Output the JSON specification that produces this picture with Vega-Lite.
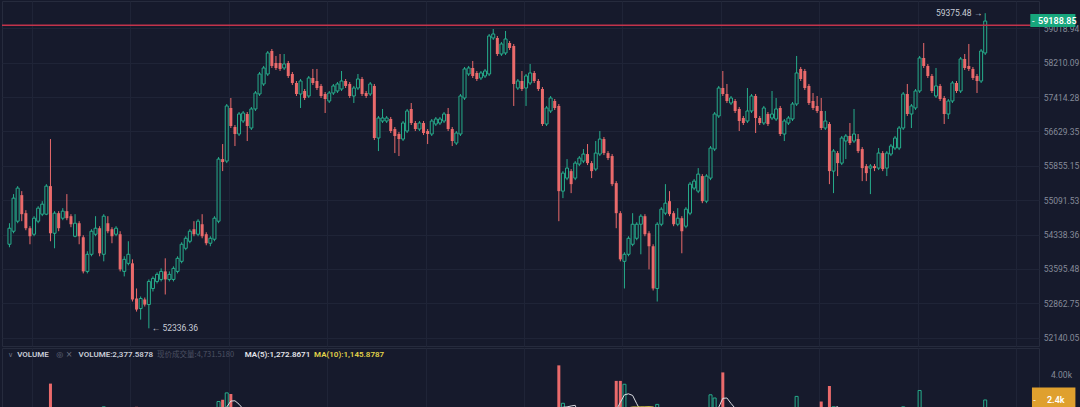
{
"$schema": "https://vega.github.io/schema/vega-lite/v6.json",
"background": "#161a2c",
"padding": 0,
"spacing": 0,
"config": {
  "view": {"stroke": "#262b3d"},
  "font": "Roboto",
  "axis": {"labelFont": "Roboto"}
},
"datasets": {
"k": [
{"i":0,"o":54128,"h":54586,"l":54063,"c":54477,"v":900},
{"i":1,"o":54411,"h":55226,"l":54367,"c":55137,"v":1300},
{"i":2,"o":54630,"h":55403,"l":54586,"c":55359,"v":1200},
{"i":3,"o":55203,"h":55292,"l":54630,"c":54784,"v":1000},
{"i":4,"o":54806,"h":54872,"l":54433,"c":54477,"v":900},
{"i":5,"o":54477,"h":54521,"l":54128,"c":54302,"v":800},
{"i":6,"o":54346,"h":54740,"l":54302,"c":54696,"v":850},
{"i":7,"o":54630,"h":54960,"l":54586,"c":54916,"v":700},
{"i":8,"o":54784,"h":55070,"l":54740,"c":55004,"v":750},
{"i":9,"o":54784,"h":55447,"l":54762,"c":55403,"v":1100},
{"i":10,"o":55403,"h":56457,"l":54193,"c":54367,"v":3400},
{"i":11,"o":54367,"h":54850,"l":54041,"c":54806,"v":1400},
{"i":12,"o":54806,"h":54850,"l":54411,"c":54477,"v":1000},
{"i":13,"o":54696,"h":54916,"l":54652,"c":54850,"v":700},
{"i":14,"o":54850,"h":55226,"l":54652,"c":54696,"v":900},
{"i":15,"o":54740,"h":54784,"l":54499,"c":54564,"v":800},
{"i":16,"o":54302,"h":54784,"l":54280,"c":54586,"v":850},
{"i":17,"o":54586,"h":54630,"l":54128,"c":54302,"v":900},
{"i":18,"o":54280,"h":54324,"l":53500,"c":53543,"v":1500},
{"i":19,"o":53543,"h":53976,"l":53500,"c":53911,"v":1100},
{"i":20,"o":53911,"h":54455,"l":53868,"c":54411,"v":1200},
{"i":21,"o":54346,"h":54740,"l":54302,"c":54477,"v":800},
{"i":22,"o":54477,"h":54521,"l":53868,"c":53933,"v":1300},
{"i":23,"o":53911,"h":54784,"l":53759,"c":54740,"v":1950},
{"i":24,"o":54586,"h":54740,"l":54367,"c":54411,"v":1000},
{"i":25,"o":54455,"h":54499,"l":54150,"c":54302,"v":800},
{"i":26,"o":54346,"h":54521,"l":54302,"c":54477,"v":700},
{"i":27,"o":54346,"h":54411,"l":53543,"c":53586,"v":1400},
{"i":28,"o":53543,"h":53868,"l":53436,"c":53802,"v":900},
{"i":29,"o":53716,"h":54193,"l":53673,"c":53911,"v":800},
{"i":30,"o":53716,"h":53802,"l":52901,"c":52944,"v":1600},
{"i":31,"o":52965,"h":53178,"l":52688,"c":52731,"v":1950},
{"i":32,"o":52752,"h":53008,"l":52519,"c":52965,"v":1300},
{"i":33,"o":52944,"h":52986,"l":52795,"c":52837,"v":900},
{"i":34,"o":52837,"h":53371,"l":52336.36,"c":53328,"v":1500},
{"i":35,"o":53178,"h":53436,"l":53114,"c":53393,"v":1000},
{"i":36,"o":53328,"h":53522,"l":53285,"c":53479,"v":800},
{"i":37,"o":53371,"h":53608,"l":53328,"c":53543,"v":750},
{"i":38,"o":53543,"h":53824,"l":53050,"c":53371,"v":1100},
{"i":39,"o":53371,"h":53543,"l":53328,"c":53479,"v":700},
{"i":40,"o":53371,"h":53651,"l":53328,"c":53608,"v":800},
{"i":41,"o":53543,"h":53868,"l":53500,"c":53824,"v":900},
{"i":42,"o":53759,"h":54171,"l":53716,"c":54128,"v":1000},
{"i":43,"o":54041,"h":54302,"l":53998,"c":54258,"v":900},
{"i":44,"o":54193,"h":54455,"l":54150,"c":54411,"v":850},
{"i":45,"o":54455,"h":54630,"l":54302,"c":54346,"v":700},
{"i":46,"o":54346,"h":54674,"l":54302,"c":54630,"v":900},
{"i":47,"o":54564,"h":54784,"l":54258,"c":54302,"v":1000},
{"i":48,"o":54346,"h":54389,"l":54106,"c":54150,"v":800},
{"i":49,"o":54150,"h":54302,"l":54085,"c":54258,"v":900},
{"i":50,"o":54237,"h":54740,"l":54193,"c":54696,"v":1300},
{"i":51,"o":54630,"h":56051,"l":54586,"c":56006,"v":2280},
{"i":52,"o":56006,"h":56344,"l":55737,"c":55939,"v":2390},
{"i":53,"o":55961,"h":57255,"l":55916,"c":57210,"v":2820},
{"i":54,"o":57164,"h":57393,"l":56707,"c":56753,"v":2750},
{"i":55,"o":56730,"h":56775,"l":56299,"c":56571,"v":1400},
{"i":56,"o":56571,"h":57072,"l":56526,"c":57026,"v":1200},
{"i":57,"o":56866,"h":57095,"l":56821,"c":57049,"v":900},
{"i":58,"o":57026,"h":57072,"l":56412,"c":56753,"v":1100},
{"i":59,"o":56707,"h":57187,"l":56662,"c":57141,"v":1000},
{"i":60,"o":57141,"h":57554,"l":57095,"c":57508,"v":1100},
{"i":61,"o":57485,"h":57994,"l":57439,"c":57947,"v":1300},
{"i":62,"o":57716,"h":58134,"l":57670,"c":58087,"v":1000},
{"i":63,"o":57947,"h":58483,"l":57901,"c":58437,"v":1300},
{"i":64,"o":58483,"h":58530,"l":58087,"c":58134,"v":1100},
{"i":65,"o":58203,"h":58367,"l":58040,"c":58087,"v":800},
{"i":66,"o":58203,"h":58413,"l":58017,"c":58064,"v":900},
{"i":67,"o":58087,"h":58413,"l":58040,"c":58180,"v":700},
{"i":68,"o":58203,"h":58250,"l":57855,"c":57901,"v":900},
{"i":69,"o":57947,"h":57994,"l":57693,"c":57739,"v":800},
{"i":70,"o":57739,"h":57785,"l":57439,"c":57485,"v":900},
{"i":71,"o":57485,"h":57831,"l":57164,"c":57785,"v":1000},
{"i":72,"o":57554,"h":57600,"l":57347,"c":57393,"v":700},
{"i":73,"o":57439,"h":57901,"l":57393,"c":57855,"v":900},
{"i":74,"o":57855,"h":58064,"l":57693,"c":57739,"v":700},
{"i":75,"o":57785,"h":58064,"l":57577,"c":57623,"v":800},
{"i":76,"o":57670,"h":57716,"l":57393,"c":57439,"v":800},
{"i":77,"o":57485,"h":57531,"l":57049,"c":57370,"v":900},
{"i":78,"o":57324,"h":57554,"l":57278,"c":57508,"v":700},
{"i":79,"o":57508,"h":57716,"l":57462,"c":57670,"v":650},
{"i":80,"o":57554,"h":57762,"l":57508,"c":57716,"v":600},
{"i":81,"o":57600,"h":58017,"l":57554,"c":57785,"v":800},
{"i":82,"o":57785,"h":57831,"l":57623,"c":57670,"v":600},
{"i":83,"o":57716,"h":57762,"l":57393,"c":57439,"v":800},
{"i":84,"o":57439,"h":57670,"l":57278,"c":57623,"v":700},
{"i":85,"o":57623,"h":57947,"l":57577,"c":57831,"v":800},
{"i":86,"o":57831,"h":57878,"l":57439,"c":57485,"v":900},
{"i":87,"o":57508,"h":57554,"l":57393,"c":57439,"v":600},
{"i":88,"o":57485,"h":57762,"l":57439,"c":57716,"v":700},
{"i":89,"o":57670,"h":57716,"l":56435,"c":56480,"v":1850},
{"i":90,"o":56480,"h":56981,"l":56186,"c":56935,"v":1300},
{"i":91,"o":56866,"h":57141,"l":56821,"c":56935,"v":800},
{"i":92,"o":56866,"h":56981,"l":56821,"c":56935,"v":600},
{"i":93,"o":56912,"h":56958,"l":56594,"c":56639,"v":800},
{"i":94,"o":56684,"h":56730,"l":56141,"c":56526,"v":900},
{"i":95,"o":56571,"h":56616,"l":56074,"c":56457,"v":900},
{"i":96,"o":56457,"h":56866,"l":56412,"c":56821,"v":1000},
{"i":97,"o":56639,"h":57141,"l":56594,"c":57095,"v":1000},
{"i":98,"o":57141,"h":57278,"l":56775,"c":56821,"v":900},
{"i":99,"o":56821,"h":56866,"l":56639,"c":56684,"v":600},
{"i":100,"o":56684,"h":56866,"l":56639,"c":56821,"v":600},
{"i":101,"o":56821,"h":56866,"l":56548,"c":56594,"v":700},
{"i":102,"o":56639,"h":56684,"l":56344,"c":56571,"v":800},
{"i":103,"o":56571,"h":56912,"l":56526,"c":56866,"v":800},
{"i":104,"o":56798,"h":56958,"l":56753,"c":56912,"v":600},
{"i":105,"o":56821,"h":56958,"l":56775,"c":56912,"v":500},
{"i":106,"o":56866,"h":57072,"l":56821,"c":57026,"v":600},
{"i":107,"o":57026,"h":57164,"l":56639,"c":56684,"v":900},
{"i":108,"o":56684,"h":56730,"l":56299,"c":56412,"v":1000},
{"i":109,"o":56367,"h":56639,"l":56322,"c":56594,"v":800},
{"i":110,"o":56571,"h":57485,"l":56526,"c":57439,"v":1500},
{"i":111,"o":57393,"h":58110,"l":57347,"c":58064,"v":1600},
{"i":112,"o":57947,"h":58134,"l":57901,"c":58087,"v":900},
{"i":113,"o":58087,"h":58250,"l":57855,"c":57901,"v":900},
{"i":114,"o":57971,"h":58017,"l":57785,"c":57831,"v":700},
{"i":115,"o":57855,"h":58017,"l":57808,"c":57971,"v":600},
{"i":116,"o":57901,"h":58064,"l":57855,"c":58017,"v":600},
{"i":117,"o":57947,"h":58883,"l":57901,"c":58836,"v":1600},
{"i":118,"o":58789,"h":59001,"l":58742,"c":58883,"v":1000},
{"i":119,"o":58789,"h":58836,"l":58367,"c":58413,"v":1200},
{"i":120,"o":58413,"h":58695,"l":58367,"c":58648,"v":800},
{"i":121,"o":58437,"h":58954,"l":58390,"c":58765,"v":900},
{"i":122,"o":58671,"h":58718,"l":58507,"c":58554,"v":700},
{"i":123,"o":58601,"h":58648,"l":57210,"c":57716,"v":1850},
{"i":124,"o":57623,"h":57831,"l":57577,"c":57785,"v":1000},
{"i":125,"o":57785,"h":58017,"l":57554,"c":57600,"v":900},
{"i":126,"o":57623,"h":57947,"l":57210,"c":57901,"v":1000},
{"i":127,"o":57739,"h":58180,"l":57693,"c":57971,"v":900},
{"i":128,"o":57971,"h":58017,"l":57739,"c":57785,"v":800},
{"i":129,"o":57785,"h":57831,"l":57554,"c":57600,"v":800},
{"i":130,"o":57600,"h":57646,"l":56753,"c":56798,"v":1850},
{"i":131,"o":56798,"h":57210,"l":56753,"c":57164,"v":1200},
{"i":132,"o":57095,"h":57439,"l":57049,"c":57393,"v":900},
{"i":133,"o":57324,"h":57370,"l":57118,"c":57164,"v":800},
{"i":134,"o":57210,"h":57255,"l":54630,"c":55292,"v":4540},
{"i":135,"o":55292,"h":55737,"l":55137,"c":55692,"v":2170},
{"i":136,"o":55581,"h":56006,"l":55536,"c":55804,"v":1300},
{"i":137,"o":55737,"h":55782,"l":55248,"c":55447,"v":1200},
{"i":138,"o":55581,"h":55961,"l":55536,"c":55916,"v":1000},
{"i":139,"o":55894,"h":56074,"l":55849,"c":56029,"v":800},
{"i":140,"o":55961,"h":56231,"l":55916,"c":56119,"v":700},
{"i":141,"o":56119,"h":56344,"l":55872,"c":55916,"v":900},
{"i":142,"o":55916,"h":55961,"l":55581,"c":55737,"v":800},
{"i":143,"o":55782,"h":56412,"l":55737,"c":56141,"v":1000},
{"i":144,"o":56119,"h":56639,"l":56074,"c":56457,"v":1100},
{"i":145,"o":56457,"h":56503,"l":56096,"c":56141,"v":1000},
{"i":146,"o":56141,"h":56186,"l":55984,"c":56029,"v":1200},
{"i":147,"o":56074,"h":56119,"l":55403,"c":55447,"v":1800},
{"i":148,"o":55470,"h":55514,"l":54477,"c":54806,"v":3570},
{"i":149,"o":54806,"h":54850,"l":53759,"c":53802,"v":3570},
{"i":150,"o":53759,"h":53954,"l":53178,"c":53911,"v":3360},
{"i":151,"o":53911,"h":54302,"l":53868,"c":54258,"v":1500},
{"i":152,"o":54128,"h":54806,"l":54085,"c":54564,"v":1300},
{"i":153,"o":54258,"h":54608,"l":54215,"c":54564,"v":1000},
{"i":154,"o":54564,"h":54784,"l":53911,"c":54740,"v":1200},
{"i":155,"o":54740,"h":54784,"l":54302,"c":54346,"v":1000},
{"i":156,"o":54367,"h":54411,"l":53586,"c":54085,"v":1300},
{"i":157,"o":54085,"h":54128,"l":53135,"c":53178,"v":1600},
{"i":158,"o":53178,"h":54608,"l":52901,"c":54564,"v":2100},
{"i":159,"o":54564,"h":54938,"l":54521,"c":54894,"v":1300},
{"i":160,"o":54806,"h":55447,"l":54762,"c":55026,"v":1200},
{"i":161,"o":55070,"h":55292,"l":54740,"c":54784,"v":1000},
{"i":162,"o":54806,"h":54850,"l":54521,"c":54564,"v":900},
{"i":163,"o":54564,"h":54916,"l":54521,"c":54696,"v":800},
{"i":164,"o":54696,"h":54740,"l":53933,"c":54411,"v":1100},
{"i":165,"o":54521,"h":54938,"l":54477,"c":54894,"v":1000},
{"i":166,"o":54806,"h":55492,"l":54762,"c":55447,"v":1400},
{"i":167,"o":55359,"h":55559,"l":55314,"c":55514,"v":900},
{"i":168,"o":55292,"h":55804,"l":55248,"c":55670,"v":1100},
{"i":169,"o":55626,"h":55670,"l":55026,"c":55070,"v":1300},
{"i":170,"o":55070,"h":55670,"l":55026,"c":55626,"v":1400},
{"i":171,"o":55581,"h":56299,"l":55536,"c":56254,"v":2700},
{"i":172,"o":56231,"h":57072,"l":56186,"c":57026,"v":2500},
{"i":173,"o":56981,"h":57670,"l":56935,"c":57623,"v":1700},
{"i":174,"o":57623,"h":58017,"l":57439,"c":57485,"v":4100},
{"i":175,"o":57485,"h":57716,"l":57278,"c":57324,"v":1500},
{"i":176,"o":57278,"h":57439,"l":57232,"c":57393,"v":1000},
{"i":177,"o":57324,"h":57370,"l":57049,"c":57095,"v":1000},
{"i":178,"o":57141,"h":57187,"l":56639,"c":56866,"v":1200},
{"i":179,"o":56935,"h":56981,"l":56775,"c":56821,"v":800},
{"i":180,"o":56866,"h":57623,"l":56821,"c":57095,"v":1100},
{"i":181,"o":57095,"h":57485,"l":57049,"c":57439,"v":1000},
{"i":182,"o":57439,"h":57485,"l":56594,"c":56935,"v":1780},
{"i":183,"o":56935,"h":56981,"l":56775,"c":56821,"v":900},
{"i":184,"o":56821,"h":57210,"l":56775,"c":57164,"v":900},
{"i":185,"o":57026,"h":57072,"l":56753,"c":56798,"v":800},
{"i":186,"o":56935,"h":57554,"l":56889,"c":57026,"v":900},
{"i":187,"o":56912,"h":57393,"l":56866,"c":57141,"v":900},
{"i":188,"o":57164,"h":57210,"l":56526,"c":56571,"v":1300},
{"i":189,"o":56571,"h":56912,"l":56412,"c":56866,"v":1000},
{"i":190,"o":56821,"h":56981,"l":56775,"c":56935,"v":700},
{"i":191,"o":56912,"h":57301,"l":56866,"c":57255,"v":1100},
{"i":192,"o":57255,"h":58367,"l":57210,"c":57971,"v":2600},
{"i":193,"o":58064,"h":58110,"l":57785,"c":57831,"v":1400},
{"i":194,"o":58017,"h":58064,"l":57577,"c":57623,"v":1200},
{"i":195,"o":57670,"h":57716,"l":57232,"c":57278,"v":1200},
{"i":196,"o":57324,"h":57508,"l":57118,"c":57164,"v":900},
{"i":197,"o":57210,"h":57439,"l":57049,"c":57095,"v":900},
{"i":198,"o":57095,"h":57393,"l":56662,"c":56707,"v":2280},
{"i":199,"o":56707,"h":57095,"l":56662,"c":56866,"v":1000},
{"i":200,"o":56798,"h":56843,"l":55447,"c":55737,"v":3250},
{"i":201,"o":55737,"h":56231,"l":55248,"c":56186,"v":1950},
{"i":202,"o":56141,"h":56186,"l":55626,"c":55916,"v":1300},
{"i":203,"o":55916,"h":56526,"l":55872,"c":56480,"v":1200},
{"i":204,"o":56412,"h":56571,"l":56006,"c":56526,"v":900},
{"i":205,"o":56526,"h":56821,"l":56322,"c":56367,"v":800},
{"i":206,"o":56412,"h":57141,"l":56367,"c":56571,"v":1000},
{"i":207,"o":56457,"h":56571,"l":56141,"c":56186,"v":900},
{"i":208,"o":56231,"h":56276,"l":55514,"c":55804,"v":1780},
{"i":209,"o":55849,"h":55894,"l":55514,"c":55692,"v":1000},
{"i":210,"o":55804,"h":55894,"l":55226,"c":55849,"v":1200},
{"i":211,"o":55849,"h":55894,"l":55737,"c":55804,"v":700},
{"i":212,"o":55804,"h":56254,"l":55760,"c":56141,"v":900},
{"i":213,"o":56141,"h":56186,"l":55737,"c":55782,"v":1000},
{"i":214,"o":55804,"h":56186,"l":55626,"c":56141,"v":1000},
{"i":215,"o":56119,"h":56344,"l":56074,"c":56299,"v":900},
{"i":216,"o":56254,"h":56526,"l":56209,"c":56480,"v":900},
{"i":217,"o":56254,"h":56753,"l":56209,"c":56707,"v":1100},
{"i":218,"o":56707,"h":57531,"l":56662,"c":57485,"v":1950},
{"i":219,"o":57485,"h":57716,"l":56981,"c":57026,"v":1400},
{"i":220,"o":57026,"h":57255,"l":56707,"c":57210,"v":1000},
{"i":221,"o":57164,"h":57600,"l":57118,"c":57554,"v":1300},
{"i":222,"o":57554,"h":58367,"l":57508,"c":58320,"v":2970},
{"i":223,"o":58320,"h":58671,"l":58087,"c":58134,"v":1780},
{"i":224,"o":58134,"h":58180,"l":57855,"c":57901,"v":1300},
{"i":225,"o":57901,"h":57947,"l":57508,"c":57554,"v":1200},
{"i":226,"o":57439,"h":58087,"l":57393,"c":57670,"v":1100},
{"i":227,"o":57670,"h":57716,"l":57324,"c":57370,"v":1000},
{"i":228,"o":57393,"h":57439,"l":56798,"c":57026,"v":1200},
{"i":229,"o":57026,"h":57370,"l":56912,"c":57324,"v":1000},
{"i":230,"o":57324,"h":57785,"l":57278,"c":57739,"v":1100},
{"i":231,"o":57739,"h":57785,"l":57508,"c":57554,"v":900},
{"i":232,"o":57554,"h":58343,"l":57508,"c":58297,"v":1250},
{"i":233,"o":58297,"h":58413,"l":58040,"c":58087,"v":844.46},
{"i":234,"o":58134,"h":58648,"l":58017,"c":58064,"v":950},
{"i":235,"o":58064,"h":58110,"l":57808,"c":57855,"v":1020},
{"i":236,"o":57901,"h":57947,"l":57508,"c":57785,"v":1080},
{"i":237,"o":57785,"h":58530,"l":57739,"c":58483,"v":936.75},
{"i":238,"o":58437,"h":59375.48,"l":58390,"c":59188.85,"v":2377.5878}
]
},
"vconcat": [
{
  "width": 1037,
  "height": 345,
  "data": {"name": "k"},
  "layer": [
    {
      "mark": {"type": "rule", "strokeWidth": 1},
      "encoding": {
        "x": {"field": "i", "type": "quantitative",
              "scale": {"domain": [-0.6, 249.9], "nice": false, "zero": false},
              "axis": {"values": [5.5, 29.5, 53.5, 77.5, 101.5, 125.5, 149.5, 173.5, 197.5, 221.5, 245.5],
                       "grid": true, "gridColor": "#1f2437", "labels": false, "ticks": false, "domain": false, "title": null}},
        "y": {"field": "l", "type": "quantitative",
              "scale": {"type": "log", "domain": [51967, 59666], "nice": false, "zero": false},
              "axis": {"orient": "right", "title": null,
                       "values": [52140.05, 52862.75, 53595.48, 54338.36, 55091.53, 55855.15, 56629.35, 57414.28, 58210.09, 59018.94],
                       "format": ".2f", "grid": true, "gridColor": "#1f2437", "ticks": false, "domain": false,
                       "labelColor": "#858a99", "labelFontSize": 8.5, "labelAlign": "center", "labelPadding": 22, "labelOverlap": false}},
        "y2": {"field": "h"},
        "color": {"condition": {"test": "datum.c >= datum.o", "value": "#26ad8c"}, "value": "#ea6a6b"}
      }
    },
    {
      "transform": [{"filter": "datum.c < datum.o"}],
      "mark": {"type": "bar", "width": 3, "color": "#ea6a6b"},
      "encoding": {
        "x": {"field": "i", "type": "quantitative"},
        "y": {"field": "o", "type": "quantitative"},
        "y2": {"field": "c"}
      }
    },
    {
      "transform": [{"filter": "datum.c >= datum.o"}],
      "mark": {"type": "bar", "width": 3, "fill": "#161a2c", "stroke": "#26ad8c", "strokeWidth": 1},
      "encoding": {
        "x": {"field": "i", "type": "quantitative"},
        "y": {"field": "o", "type": "quantitative"},
        "y2": {"field": "c"}
      }
    },
    {
      "data": {"values": [{}]},
      "mark": {"type": "rule", "color": "#c2334b", "strokeWidth": 1.5},
      "encoding": {"y": {"datum": 59090, "type": "quantitative"}}
    },
    {
      "data": {"values": [{}]},
      "mark": {"type": "text", "text": "59375.48 →", "align": "right", "baseline": "middle", "dx": -3, "fontSize": 8.5, "color": "#c8ccd6"},
      "encoding": {"x": {"datum": 238, "type": "quantitative"}, "y": {"datum": 59375.48, "type": "quantitative"}}
    },
    {
      "data": {"values": [{}]},
      "mark": {"type": "text", "text": "← 52336.36", "align": "left", "baseline": "middle", "dx": 3, "fontSize": 8.5, "color": "#c8ccd6"},
      "encoding": {"x": {"datum": 34, "type": "quantitative"}, "y": {"datum": 52336.36, "type": "quantitative"}}
    },
    {
      "data": {"values": [{}]},
      "mark": {"type": "rect", "color": "#17a67c"},
      "encoding": {"x": {"datum": 249.0, "type": "quantitative"}, "x2": {"datum": 260.0},
                   "y": {"datum": 59357, "type": "quantitative"}, "y2": {"datum": 59048}}
    },
    {
      "data": {"values": [{}]},
      "mark": {"type": "text", "text": "-", "align": "left", "baseline": "middle", "fontSize": 9, "color": "#ffffff"},
      "encoding": {"x": {"datum": 249.4, "type": "quantitative"}, "y": {"datum": 59188.85, "type": "quantitative"}}
    },
    {
      "data": {"values": [{}]},
      "mark": {"type": "text", "text": "59188.85", "align": "center", "baseline": "middle", "fontSize": 9, "fontWeight": 600, "color": "#ffffff"},
      "encoding": {"x": {"datum": 255.6, "type": "quantitative"}, "y": {"datum": 59188.85, "type": "quantitative"}}
    }
  ]
},
{
  "width": 1037,
  "height": 62,
  "data": {"name": "k"},
  "transform": [
    {"window": [{"op": "mean", "field": "v", "as": "ma5"}], "frame": [-4, 0], "sort": [{"field": "i"}]},
    {"window": [{"op": "mean", "field": "v", "as": "ma10"}], "frame": [-9, 0], "sort": [{"field": "i"}]}
  ],
  "layer": [
    {
      "transform": [{"filter": "datum.c < datum.o"}],
      "mark": {"type": "bar", "width": 3, "color": "#ea6a6b", "clip": true},
      "encoding": {
        "x": {"field": "i", "type": "quantitative",
              "scale": {"domain": [-0.6, 249.9], "nice": false, "zero": false},
              "axis": {"values": [5.5, 29.5, 53.5, 77.5, 101.5, 125.5, 149.5, 173.5, 197.5, 221.5, 245.5],
                       "grid": true, "gridColor": "#1f2437", "labels": false, "ticks": false, "domain": false, "title": null}},
        "y": {"field": "v", "type": "quantitative",
              "scale": {"domain": [1750, 5625], "nice": false, "zero": false},
              "axis": {"orient": "right", "title": null, "values": [2000, 4000],
                       "labelExpr": "format(datum.value/1000, '.2f') + 'k'",
                       "grid": false, "ticks": false, "domain": false,
                       "labelColor": "#858a99", "labelFontSize": 8.5, "labelAlign": "center", "labelPadding": 22}},
        "y2": {"datum": 0}
      }
    },
    {
      "transform": [{"filter": "datum.c >= datum.o"}],
      "mark": {"type": "bar", "width": 3, "fill": "#161a2c", "stroke": "#26ad8c", "strokeWidth": 1, "clip": true},
      "encoding": {
        "x": {"field": "i", "type": "quantitative"},
        "y": {"field": "v", "type": "quantitative"},
        "y2": {"datum": 0}
      }
    },
    {
      "mark": {"type": "line", "color": "#dcdde3", "strokeWidth": 1, "clip": true},
      "encoding": {
        "x": {"field": "i", "type": "quantitative"},
        "y": {"field": "ma5", "type": "quantitative"}
      }
    },
    {
      "mark": {"type": "line", "color": "#d9c84a", "strokeWidth": 1, "clip": true},
      "encoding": {
        "x": {"field": "i", "type": "quantitative"},
        "y": {"field": "ma10", "type": "quantitative"}
      }
    },
    {
      "data": {"values": [{}]},
      "mark": {"type": "text", "text": "∨", "align": "left", "baseline": "middle", "fontSize": 7, "color": "#6b7080"},
      "encoding": {"x": {"datum": -0.3, "type": "quantitative"}, "y": {"datum": 5188, "type": "quantitative"}}
    },
    {
      "data": {"values": [{}]},
      "mark": {"type": "text", "text": "VOLUME", "align": "left", "baseline": "middle", "fontSize": 8, "fontWeight": 600, "color": "#c8ccd6"},
      "encoding": {"x": {"datum": 1.88, "type": "quantitative"}, "y": {"datum": 5188, "type": "quantitative"}}
    },
    {
      "data": {"values": [{}]},
      "mark": {"type": "text", "text": "◎  ×", "align": "left", "baseline": "middle", "fontSize": 8, "color": "#6b7080", "font": "DejaVu Sans"},
      "encoding": {"x": {"datum": 11.4, "type": "quantitative"}, "y": {"datum": 5188, "type": "quantitative"}}
    },
    {
      "data": {"values": [{}]},
      "mark": {"type": "text", "text": "VOLUME:2,377.5878", "align": "left", "baseline": "middle", "fontSize": 8, "fontWeight": 600, "color": "#c8ccd6"},
      "encoding": {"x": {"datum": 16.86, "type": "quantitative"}, "y": {"datum": 5188, "type": "quantitative"}}
    },
    {
      "data": {"values": [{}]},
      "mark": {"type": "text", "text": "现价成交量:4,731.5180", "align": "left", "baseline": "middle", "fontSize": 7.5, "color": "#4c5163", "font": "Noto Sans CJK SC"},
      "encoding": {"x": {"datum": 36.0, "type": "quantitative"}, "y": {"datum": 5188, "type": "quantitative"}}
    },
    {
      "data": {"values": [{}]},
      "mark": {"type": "text", "text": "MA(5):1,272.8671", "align": "left", "baseline": "middle", "fontSize": 8, "fontWeight": 600, "color": "#e4e5ea"},
      "encoding": {"x": {"datum": 57.4, "type": "quantitative"}, "y": {"datum": 5188, "type": "quantitative"}}
    },
    {
      "data": {"values": [{}]},
      "mark": {"type": "text", "text": "MA(10):1,145.8787", "align": "left", "baseline": "middle", "fontSize": 8, "fontWeight": 600, "color": "#e3d44a"},
      "encoding": {"x": {"datum": 74.3, "type": "quantitative"}, "y": {"datum": 5188, "type": "quantitative"}}
    },
    {
      "data": {"values": [{}]},
      "mark": {"type": "rect", "color": "#dfa02e"},
      "encoding": {"x": {"datum": 249.4, "type": "quantitative"}, "x2": {"datum": 260.0},
                   "y": {"datum": 3150, "type": "quantitative"}, "y2": {"datum": 1900}}
    },
    {
      "data": {"values": [{}]},
      "mark": {"type": "text", "text": "-", "align": "left", "baseline": "middle", "fontSize": 9, "color": "#ffffff"},
      "encoding": {"x": {"datum": 249.7, "type": "quantitative"}, "y": {"datum": 2400, "type": "quantitative"}}
    },
    {
      "data": {"values": [{}]},
      "mark": {"type": "text", "text": "2.4k", "align": "center", "baseline": "middle", "fontSize": 9, "fontWeight": 600, "color": "#ffffff"},
      "encoding": {"x": {"datum": 255.2, "type": "quantitative"}, "y": {"datum": 2400, "type": "quantitative"}}
    }
  ]
}
]
}
